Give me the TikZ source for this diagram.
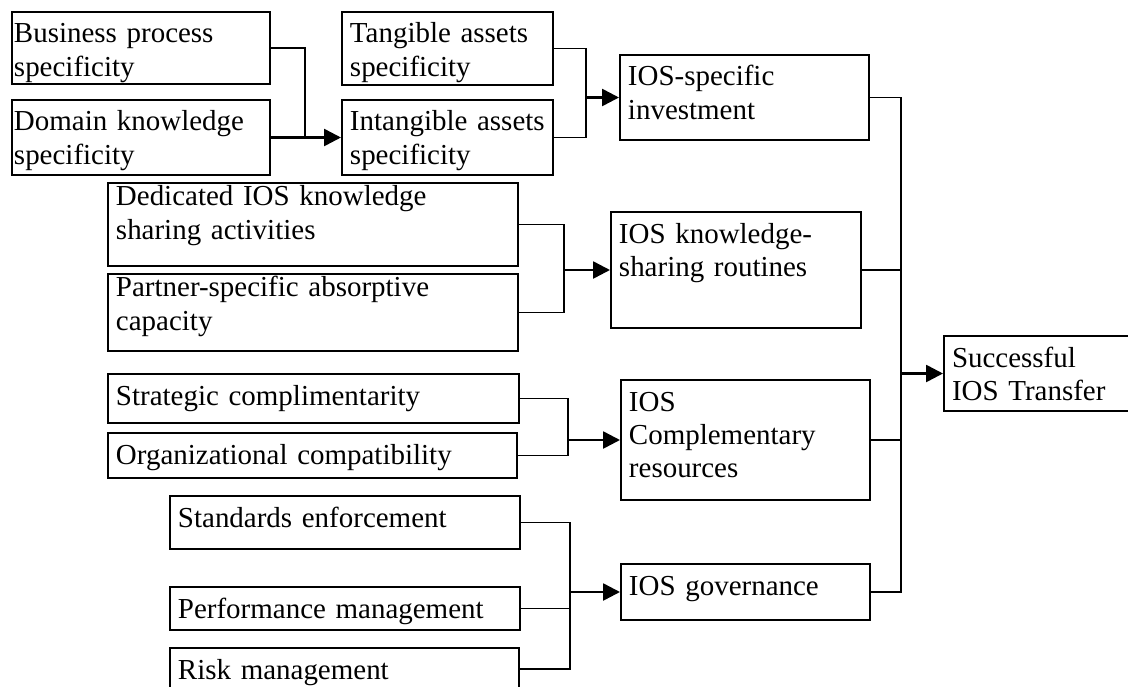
\documentclass[tikz,border=0pt]{standalone}
\usepackage{fontspec}
\setmainfont{Liberation Serif}
\usepackage{tikz}
\usetikzlibrary{arrows.meta}

\tikzset{
	kasten/.style 2 args={draw, anchor=north west, align=left, inner xsep=0.2cm, inner ysep=0.075cm,
		text height=0.7cm, text width=#1, text depth=#2, font=\fontsize{20.6}{23.5}\selectfont},
	pfeil/.style={line width=1.8pt, -{Triangle[length=0.42cm, width=0.42cm]}}
}

\begin{document}
\begin{tikzpicture}[x=0.025cm, y=-0.025cm, line width=1.4pt]
	\useasboundingbox (0,0) rectangle (1128,686);
	% linke spalte oben
	\node[kasten={6.35cm}{0.95cm}, inner xsep=0.05cm] (bps) at (11,11) {Business process\\specificity};
	\node[kasten={6.35cm}{1.025cm}, inner xsep=0.05cm] (dks) at (11,99) {Domain knowledge\\specificity};
	\node[kasten={4.875cm}{0.975cm}] (tas) at (341,11) {Tangible assets\\specificity};
	\node[kasten={4.875cm}{1.025cm}] (ias) at (341,99) {Intangible assets\\specificity};
	\node[kasten={5.825cm}{1.275cm}] (isi) at (619,54) {IOS-specific\\investment};
	% wissen
	\node[kasten={9.85cm}{1.425cm}, text height=0.5cm] (dka) at (107,182) {Dedicated IOS knowledge\\sharing activities};
	\node[kasten={9.85cm}{1.275cm}, text height=0.5cm] (psa) at (107,273) {Partner-specific absorptive\\capacity};
	\node[kasten={5.85cm}{2.05cm}] (ksr) at (610,211) {IOS knowledge-\\sharing routines};
	% ressourcen
	\node[kasten={9.875cm}{0.375cm}] (stc) at (107,373) {Strategic complimentarity};
	\node[kasten={9.825cm}{0.275cm}] (orc) at (107,432) {Organizational compatibility};
	\node[kasten={5.825cm}{2.15cm}] (icr) at (620,379) {IOS\\Complementary\\resources};
	% governance
	\node[kasten={8.35cm}{0.475cm}] (sen) at (169,495) {Standards enforcement};
	\node[kasten={8.35cm}{0.225cm}] (pem) at (169,586) {Performance management};
	\node[kasten={8.325cm}{0.2cm}] (rim) at (169,647) {Risk management};
	\node[kasten={5.825cm}{0.55cm}] (igv) at (620,563) {IOS governance};
	% ziel
	\node[kasten={4.5cm}{1.025cm}] (sit) at (943,335) {Successful\\IOS Transfer};

	% knotenpunkte
	\coordinate (j1) at (305,0);
	\coordinate (j2) at (586,0);
	\coordinate (j3) at (564,0);
	\coordinate (j4) at (568,0);
	\coordinate (j5) at (570,0);
	\coordinate (j6) at (901,0);

	% verbindungen
	\draw (bps.east) -| (j1 |- dks.east);
	\draw[pfeil] (dks.east) -- (ias.west);
	\draw (tas.east) -| (j2 |- ias.east) -- (ias.east);
	\draw[pfeil] (j2 |- isi.west) -- (isi.west);
	\draw (dka.east) -| (j3 |- psa.east) -- (psa.east);
	\draw[pfeil] (j3 |- ksr.west) -- (ksr.west);
	\draw (stc.east) -| (j4 |- orc.east) -- (orc.east);
	\draw[pfeil] (j4 |- icr.west) -- (icr.west);
	\draw (sen.east) -| (j5 |- rim.east) -- (rim.east);
	\draw (pem.east) -- (j5 |- pem.east);
	\draw[pfeil] (j5 |- igv.west) -- (igv.west);
	% rechte sammelleitung
	\draw (isi.east) -| (j6 |- igv.east) -- (igv.east);
	\draw (ksr.east) -- (j6 |- ksr.east);
	\draw (icr.east) -- (j6 |- icr.east);
	\draw[pfeil] (j6 |- sit.west) -- (sit.west);
\end{tikzpicture}
\end{document}
